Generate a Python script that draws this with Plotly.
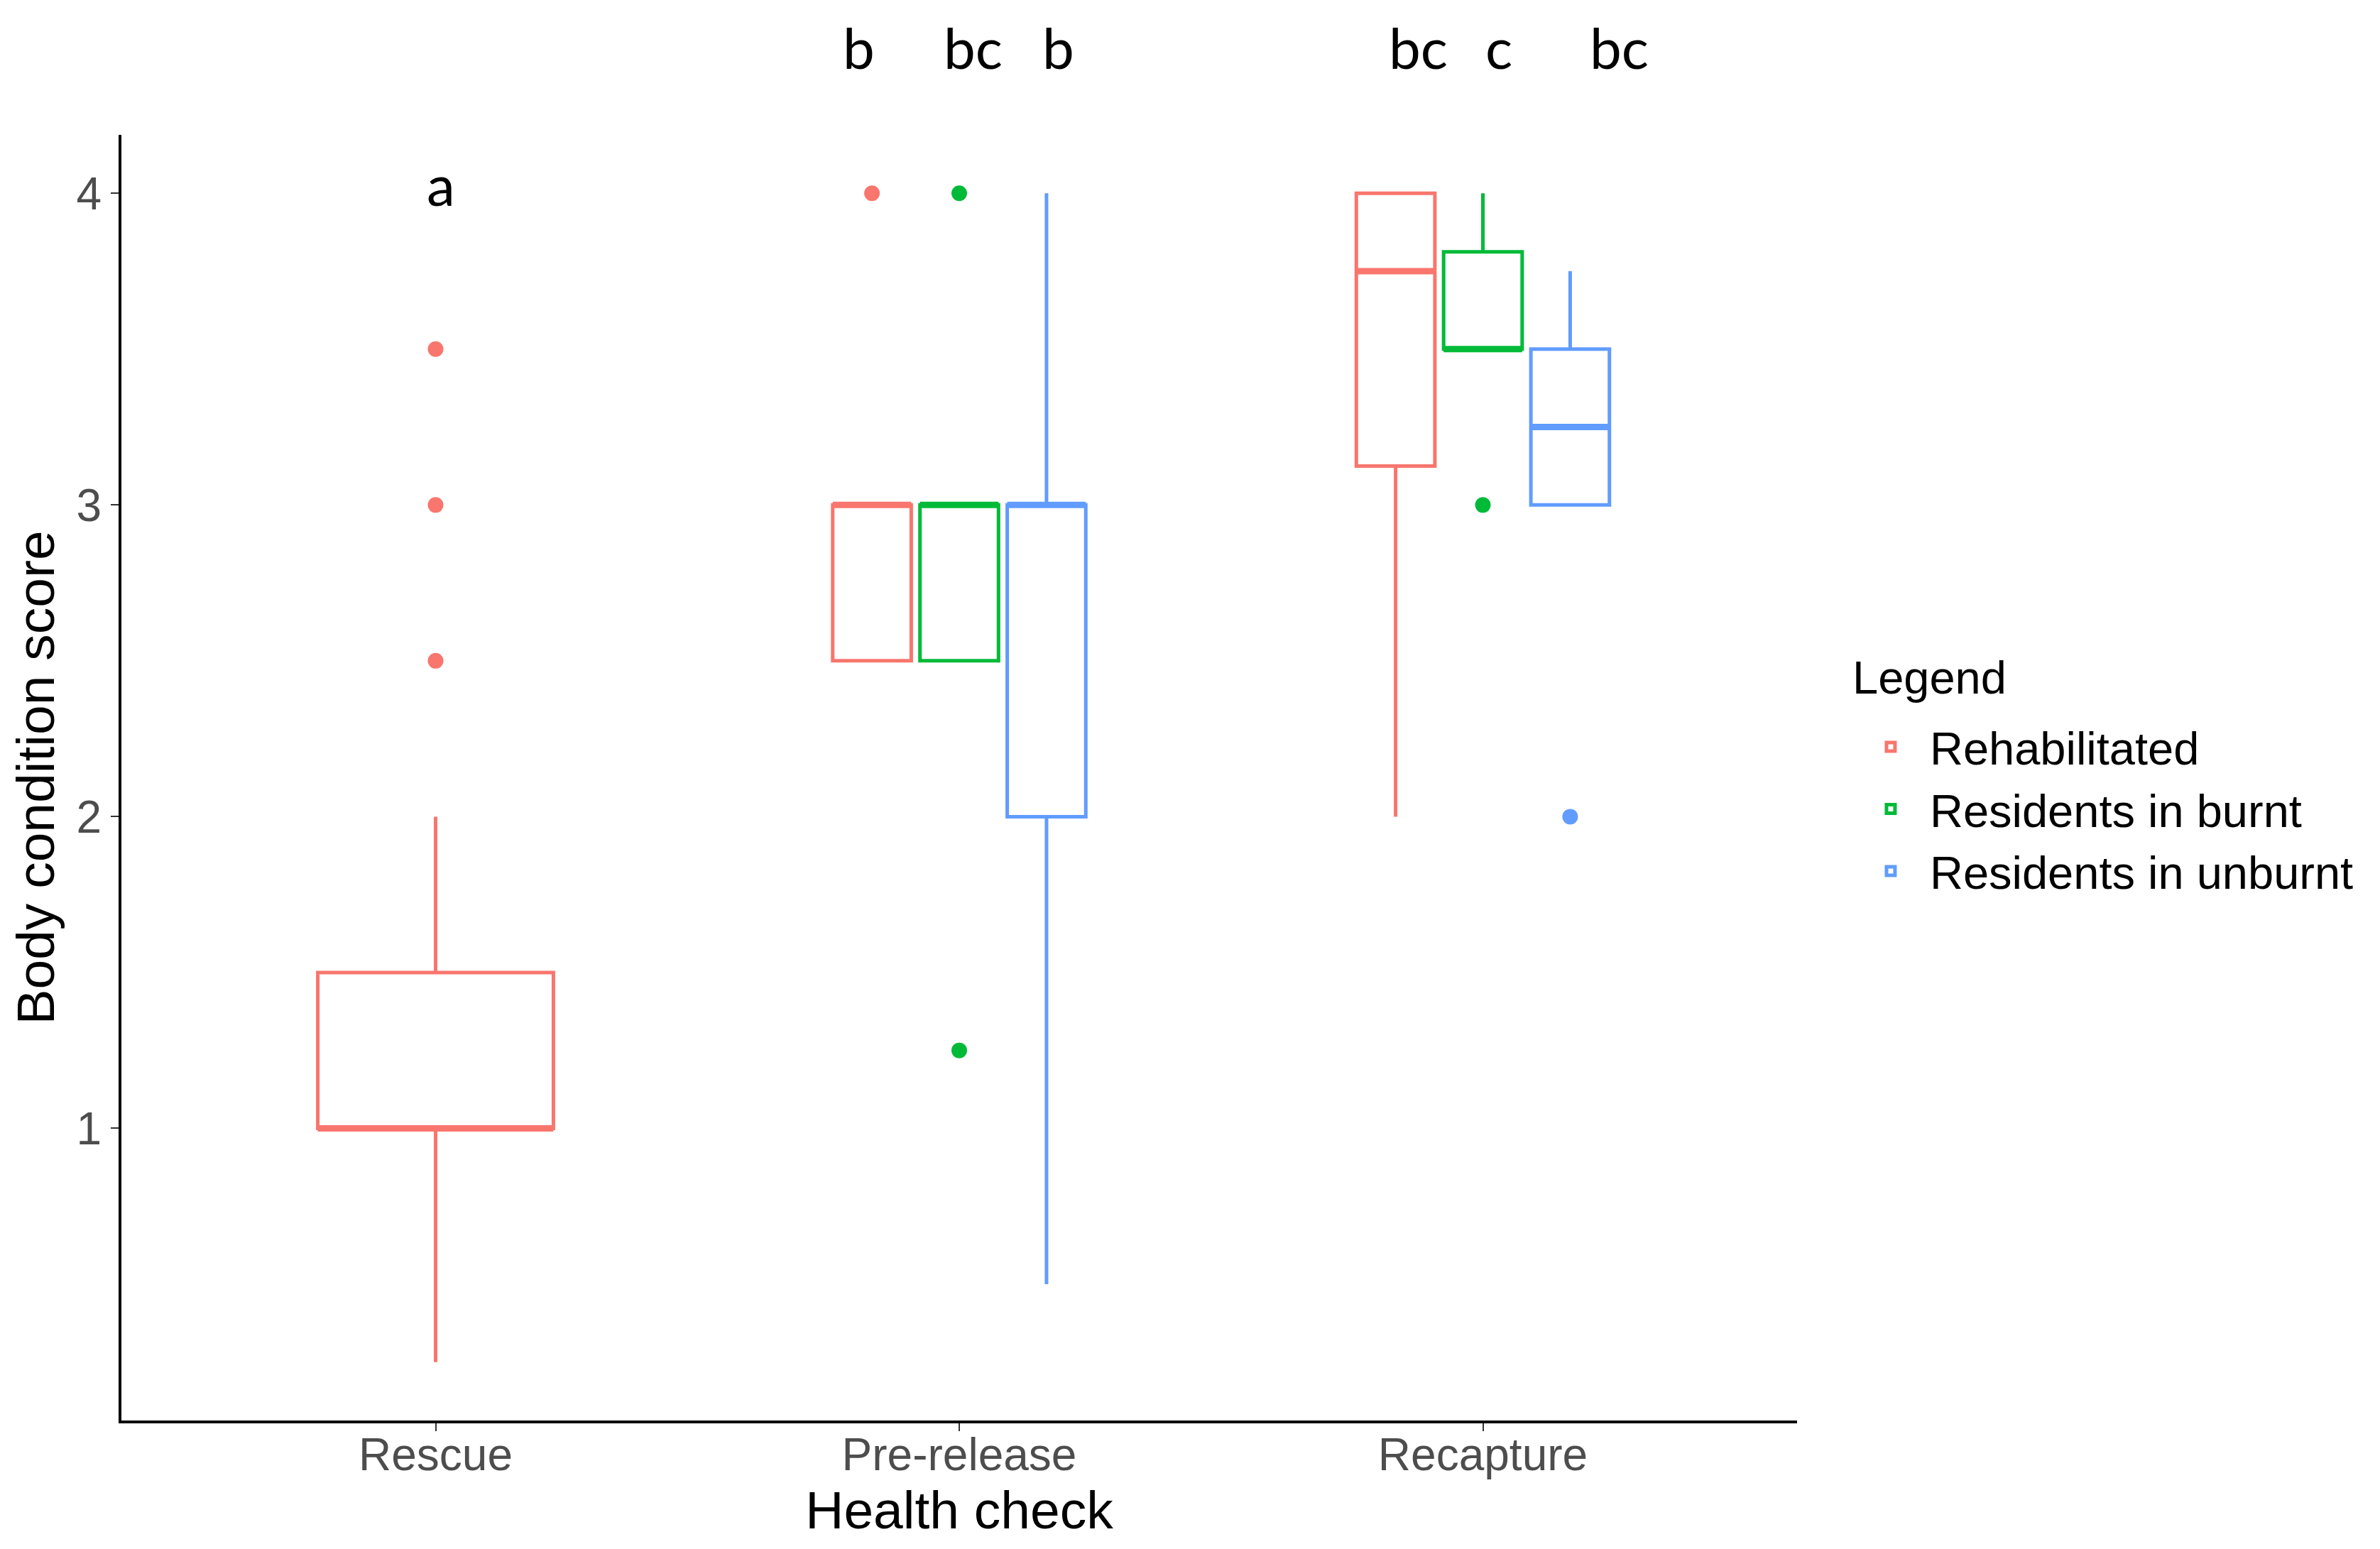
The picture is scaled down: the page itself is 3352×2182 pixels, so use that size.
import plotly.graph_objects as go

# ---- data ----
checks = ["Rescue", "Pre-release", "Recapture"]
groups = ["Rehabilitated", "Residents in burnt", "Residents in unburnt"]
colors = ["#F8766D", "#00BA38", "#619CFF"]

# box statistics per health check (None = no data)
rehab_q1 = [1.0, 2.5, 3.125]
rehab_med = [1.0, 3.0, 3.75]
rehab_q3 = [1.5, 3.0, 4.0]
rehab_lo = [0.25, 2.5, 2.0]
rehab_hi = [2.0, 3.0, 4.0]
rehab_out = [[3.5, 3.0, 2.5], [4.0], []]

burnt_q1 = [None, 2.5, 3.5]
burnt_med = [None, 3.0, 3.5]
burnt_q3 = [None, 3.0, 3.8125]
burnt_lo = [None, 2.5, 3.5]
burnt_hi = [None, 3.0, 4.0]
burnt_out = [[], [4.0, 1.25], [3.0]]

unburnt_q1 = [None, 2.0, 3.0]
unburnt_med = [None, 3.0, 3.25]
unburnt_q3 = [None, 3.0, 3.5]
unburnt_lo = [None, 0.5, 3.0]
unburnt_hi = [None, 4.0, 3.75]
unburnt_out = [[], [], [2.0]]

# significance letters: text, x position in category units, y value
letters = ["a", "b", "bc", "b", "bc", "c", "bc"]
letter_x = [0.01, 0.808, 1.027, 1.189, 1.876, 2.031, 2.26]
letter_y = [4.03, 4.47, 4.47, 4.47, 4.47, 4.47, 4.47]

stats = [
    (rehab_q1, rehab_med, rehab_q3, rehab_lo, rehab_hi, rehab_out),
    (burnt_q1, burnt_med, burnt_q3, burnt_lo, burnt_hi, burnt_out),
    (unburnt_q1, unburnt_med, unburnt_q3, unburnt_lo, unburnt_hi, unburnt_out),
]

YMIN, YMAX = 0.0625, 4.1875
DODGE = 0.5
BOXFRAC = 0.9
LW = 5
LETTER_SIZE = 80

fig = go.Figure()

for ci, check in enumerate(checks):
    present = [gi for gi in range(len(groups)) if stats[gi][0][ci] is not None]
    n = len(present)
    slot = DODGE / n
    for k, gi in enumerate(present):
        q1, med, q3, lo, hi, out = stats[gi]
        xpos = ci - DODGE / 2 + slot * (k + 0.5)
        w = slot * BOXFRAC
        fig.add_trace(go.Box(
            x=[xpos], q1=[q1[ci]], median=[med[ci]], q3=[q3[ci]],
            lowerfence=[lo[ci]], upperfence=[hi[ci]],
            width=w, whiskerwidth=0,
            line=dict(color=colors[gi], width=LW),
            fillcolor="rgba(255,255,255,0)",
            name=groups[gi], legendgroup=groups[gi],
            showlegend=False, boxpoints=False, hoverinfo="skip",
        ))
        # thicker median line (ggplot fatten)
        fig.add_trace(go.Scatter(
            x=[xpos - w / 2, xpos + w / 2], y=[med[ci], med[ci]], mode="lines",
            line=dict(color=colors[gi], width=LW * 1.8),
            showlegend=False, hoverinfo="skip",
        ))
        if out[ci]:
            fig.add_trace(go.Scatter(
                x=[xpos] * len(out[ci]), y=out[ci], mode="markers",
                marker=dict(color=colors[gi], size=22),
                showlegend=False, hoverinfo="skip",
            ))

# legend entries
for gi, g in enumerate(groups):
    fig.add_trace(go.Box(
        x=[None], y=[None], name=g, legendgroup=g,
        line=dict(color=colors[gi], width=LW),
        fillcolor="rgba(255,255,255,0)", showlegend=True,
    ))

for t, lx, ly in zip(letters, letter_x, letter_y):
    fig.add_annotation(x=lx, y=(ly - YMIN) / (YMAX - YMIN), xref="x", yref="paper",
                       text=t, showarrow=False,
                       font=dict(family="Lato", size=LETTER_SIZE, color="black"),
                       xanchor="center", yanchor="middle", borderpad=0)

fig.add_annotation(x=1.032, y=0.5776, xref="paper", yref="paper", text="Legend",
                   showarrow=False, xanchor="left", yanchor="middle",
                   font=dict(family="Liberation Sans", size=65, color="black"))

fig.update_layout(
    width=3352, height=2182,
    margin=dict(l=163, r=829, t=182, b=189),
    paper_bgcolor="white", plot_bgcolor="white",
    font=dict(family="Liberation Sans", color="black"),
    boxmode="overlay",
    showlegend=True,
    legend=dict(
        font=dict(size=65, color="black"),
        x=1.0326, y=0.551, xanchor="left", yanchor="top",
        tracegroupgap=0, itemwidth=100,
        bgcolor="rgba(255,255,255,0)",
    ),
    xaxis=dict(
        range=[-0.6, 2.6], tickvals=[0, 1, 2], ticktext=checks,
        showgrid=False, zeroline=False,
        showline=True, linecolor="black", linewidth=4,
        ticks="outside", ticklen=11, tickwidth=2, tickcolor="#333333",
        tickfont=dict(size=64, color="#4D4D4D"),
        ticklabelstandoff=-22,
        title=dict(text="Health check", font=dict(size=75, color="black"), standoff=0),
    ),
    yaxis=dict(
        range=[YMIN, YMAX], tickvals=[1, 2, 3, 4],
        showgrid=False, zeroline=False,
        showline=True, linecolor="black", linewidth=4,
        ticks="outside", ticklen=11, tickwidth=2, tickcolor="#333333",
        tickfont=dict(size=64, color="#4D4D4D"),
        title=dict(text="Body condition score", font=dict(size=75, color="black"), standoff=20),
    ),
)

fig.write_html("out.html")
